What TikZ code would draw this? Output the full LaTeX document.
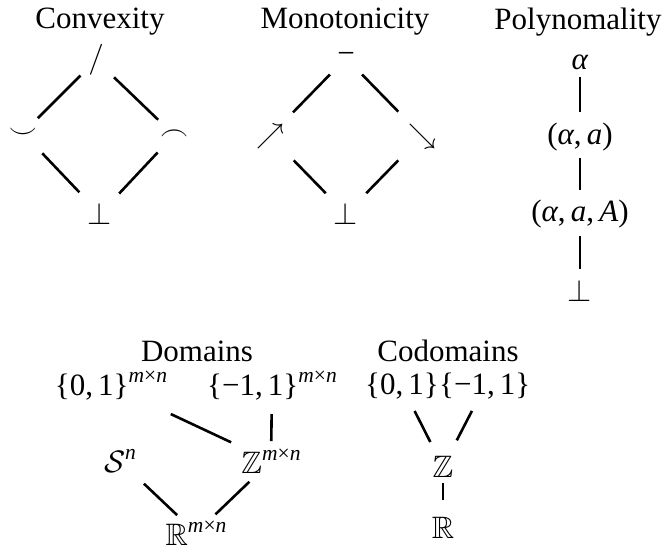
\RequirePackage{fix-cm}
\documentclass[tikz,border=0pt]{standalone}
\usepackage{mathptmx}
\usepackage{amssymb}
\usepackage{fontspec}
\setmainfont{Liberation Serif}
\DeclareMathAlphabet{\mathcalcm}{OMS}{cmsy}{m}{n}
\newcommand\supx[1]{\raisebox{0.42em}{\fontsize{21.5}{22}\selectfont #1}}
\newcommand\mxn{\supx{\textit{m}×\textit{n}}}
\tikzset{
  lbl/.style={inner sep=0pt, anchor=center},
  sym/.style={inner sep=0pt, anchor=center, font=\fontsize{28}{30}\selectfont},
  hasse/.style={line width=2.6pt},
}
\begin{document}
\begin{tikzpicture}[x=1pt,y=-1pt,font=\fontsize{31}{37}\selectfont]
\useasboundingbox (0,0) rectangle (669,555);
% Convexity
\node[lbl] (ctitle) at (100,22) {Convexity};
\node[lbl] (cT) at (96,60) {$/$};
\node[sym] (cL) at (23,133) {$\smile$};
\node[sym] (cR) at (174,135) {$\frown$};
\node[lbl] (cB) at (100,214) {$\bot$};
\draw[hasse, shorten <=22pt, shorten >=21pt] (cT.center) -- (cL.center);
\draw[hasse, shorten <=25pt, shorten >=22pt] (cT.center) -- (cR.center);
\draw[hasse, shorten <=28pt, shorten >=30pt] (cL.center) -- (cB.center);
\draw[hasse, shorten <=24pt, shorten >=28pt] (cR.center) -- (cB.center);
% Monotonicity
\node[lbl] (mtitle) at (345,22) {Monotonicity};
\node[lbl] (mT) at (346,58) {−};
\node[sym] (mL) at (270,136) {$\nearrow$};
\node[sym] (mR) at (422,136) {$\searrow$};
\node[lbl] (mB) at (346,214) {$\bot$};
\draw[hasse, shorten <=23pt, shorten >=33pt] (mT.center) -- (mL.center);
\draw[hasse, shorten <=23pt, shorten >=34pt] (mT.center) -- (mR.center);
\draw[hasse, shorten <=34pt, shorten >=29pt] (mL.center) -- (mB.center);
\draw[hasse, shorten <=34pt, shorten >=29pt] (mR.center) -- (mB.center);
% Polynomality
\node[lbl] (ptitle) at (578,22) {Polynomality};
\node[lbl] (p1) at (580,62) {\textit{α}};
\node[lbl] (p2) at (580,137) {(\textit{α},\,\textit{a})};
\node[lbl] (p3) at (580,214) {(\textit{α},\,\textit{a},\,\textit{A})};
\node[lbl] (p4) at (580,291) {$\bot$};
\draw[hasse, shorten <=15pt, shorten >=25pt] (p1.center) -- (p2.center);
\draw[hasse, shorten <=21pt, shorten >=24pt] (p2.center) -- (p3.center);
\draw[hasse, shorten <=22pt, shorten >=22pt] (p3.center) -- (p4.center);
% Domains
\node[lbl] (dtitle) at (197,351) {Domains};
\node[lbl] (dA) at (111,386) {\{0,\,1\}\mxn};
\node[lbl] (dB) at (272,386) {\{−1,\,1\}\mxn};
\node[lbl] (dS) at (120,461) {$\mathcalcm{S}$\supx{\textit{n}}};
\node[lbl] (dZ) at (271,461) {$\mathbb{Z}$\mxn};
\node[lbl] (dR) at (196,533) {$\mathbb{R}$\mxn};
\draw[hasse, shorten <=66pt, shorten >=44pt] (dA.center) -- (dZ.center);
\draw[hasse, shorten <=28pt, shorten >=20pt] (dB.center) -- (dZ.center);
\draw[hasse, shorten <=33pt, shorten >=26pt] (dS.center) -- (dR.center);
\draw[hasse, shorten <=30pt, shorten >=27pt] (dZ.center) -- (dR.center);
% Codomains
\node[lbl] (otitle) at (448,351) {Codomains};
\node[lbl, anchor=east] (o0) at (439,386) {\{0,\,1\}};
\node[lbl, anchor=west] (o1) at (439,386) {\{−1,\,1\}};
\node[lbl] (oZ) at (443,467) {$\mathbb{Z}$};
\node[lbl] (oR) at (443,528) {$\mathbb{R}$};
\draw[hasse, shorten <=28pt, shorten >=28pt] (o0.center) -- (oZ.center);
\draw[hasse, shorten <=28pt, shorten >=30pt] (o1.center) -- (oZ.center);
\draw[hasse, shorten <=16pt, shorten >=28pt] (oZ.center) -- (oR.center);
\end{tikzpicture}
\end{document}
